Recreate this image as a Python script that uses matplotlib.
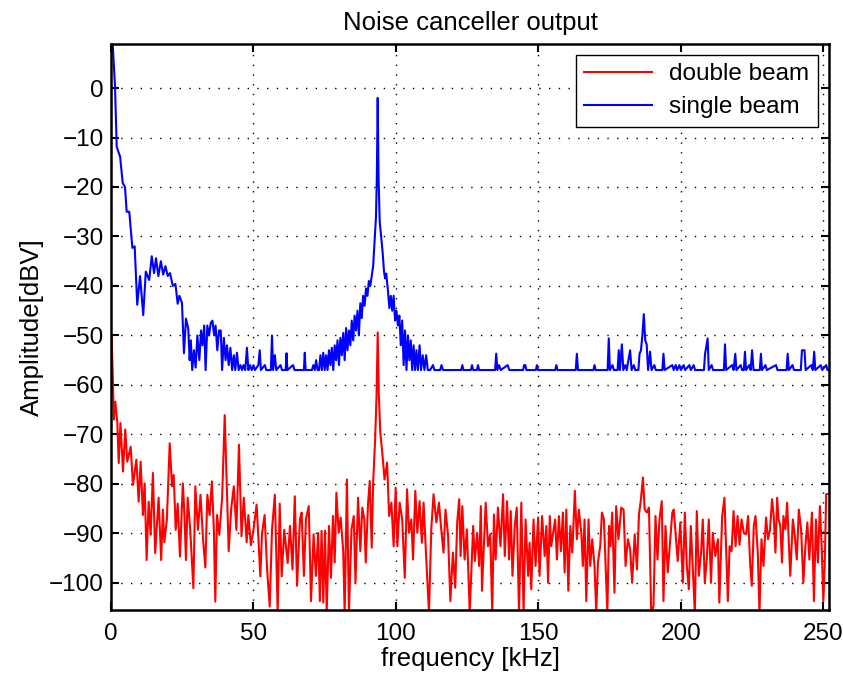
import matplotlib
matplotlib.use('Agg')
import matplotlib.pyplot as plt

plt.rcParams['font.family'] = ['Liberation Sans', 'DejaVu Sans']

# single beam output (blue)
blue_freq = [0, 0.6, 1.4, 2.0, 3.2, 4.1, 4.9, 5.5, 6.4, 7.5, 8.3, 9.2, 10.2, 11.3, 12.2,
             13.4, 14.3, 15.1, 15.8, 16.6, 17.5, 18.3, 19.1, 19.9, 20.7, 21.7, 22.6, 23.4,
             24.0, 24.9, 25.6, 26.3, 27.1, 27.6, 28.0, 28.5, 29.1, 29.7, 30.3, 31.0, 31.6,
             32.1, 32.7, 33.2, 33.8, 34.4, 35.0, 35.6, 36.2, 36.7, 37.3, 37.9, 38.5, 39.0,
             39.6, 40.2, 40.7, 41.3, 41.9, 42.5, 43.1, 43.6, 44.2, 44.8, 45.4, 46.0, 46.5,
             47.1, 47.7, 48.2, 48.8, 49.4, 50.0, 50.5, 51.7, 52.2, 52.6, 54.0, 54.5, 56.1,
             56.5, 56.9, 57.5, 58.0, 59.5, 60.0, 61.3, 61.6, 61.9, 63.9, 64.4, 67.7, 68.0,
             68.3, 70.0, 70.5, 71.0, 71.5, 72.0, 72.5, 73.0, 73.5, 74.0, 74.5, 75.0, 75.5,
             76.0, 76.5, 77.0, 77.5, 78.0, 78.5, 79.0, 79.5, 80.0, 80.5, 81.0, 81.5, 82.0,
             82.5, 83.0, 83.5, 84.0, 84.5, 85.0, 85.5, 86.0, 86.5, 87.0, 87.5, 88.0, 88.5,
             89.0, 89.5, 90.0, 90.5, 91.0, 91.5, 92.0, 92.5, 93.0, 93.3, 93.6, 93.9, 94.3,
             94.8, 95.3, 95.8, 96.2, 96.6, 97.2, 97.7, 98.2, 98.7, 99.2, 99.7, 100.2, 100.7,
             101.2, 101.7, 102.2, 102.7, 103.2, 103.7, 104.2, 104.7, 105.2, 105.7, 106.2,
             106.7, 107.2, 107.7, 108.3, 108.8, 109.4, 110.0, 110.6, 111.2, 112.0, 113.0,
             113.5, 115.5, 116.0, 116.5, 122.9, 123.3, 123.7, 126.3, 126.7, 127.1, 128.4,
             128.8, 129.2, 134.8, 135.2, 135.6, 136.2, 136.8, 139.2, 139.8, 144.6, 145.0,
             145.4, 145.8, 149.1, 149.5, 149.9, 155.9, 156.3, 156.7, 163.1, 163.5, 163.9,
             169.3, 169.7, 170.1, 174.3, 174.7, 175.1, 176.0, 176.5, 177.8, 178.2, 178.6,
             179.3, 179.8, 180.5, 181.0, 182.2, 182.7, 183.5, 184.0, 185.1, 185.5, 186.0,
             186.5, 187.0, 187.5, 188.0, 188.5, 189.2, 189.7, 190.7, 191.2, 193.5, 193.9,
             194.3, 197.0, 197.5, 198.2, 198.7, 199.5, 200.0, 201.0, 201.5, 203.0, 203.5,
             204.5, 205.0, 208.1, 208.5, 209.4, 209.8, 210.8, 211.3, 215.1, 215.5, 215.9,
             218.0, 218.5, 219.1, 219.5, 221.0, 221.5, 222.1, 222.5, 222.9, 224.0, 224.5,
             225.0, 225.5, 227.7, 228.1, 228.5, 229.7, 230.2, 233.4, 233.9, 237.1, 237.5,
             237.9, 239.2, 239.7, 242.1, 242.5, 243.4, 243.8, 245.8, 246.3, 246.8, 247.2,
             249.1, 249.6, 251.0, 251.5, 252.0]
blue_db = [9.5, 8.7, 0.3, -11.9, -13.9, -19.2, -20, -25, -25, -32.3, -32, -43.8, -38, -45.9, -37.1,
           -38.8, -34, -37.4, -34.4, -38, -35, -37.7, -36, -38, -37.4, -40, -39.6, -43.6,
           -42, -43.4, -53.6, -46.6, -48.6, -55, -51, -57, -53, -56.5, -50, -55, -49,
           -52, -48, -57, -48, -50, -47.5, -47, -50, -48, -53, -49, -49, -57,
           -50.5, -55, -52, -56, -52.5, -57, -54, -57, -53.5, -57, -56, -57, -56,
           -57, -52.5, -57, -56, -57, -56, -57, -56, -53, -57, -56, -57, -57,
           -50, -57, -54, -57, -56, -57, -57, -53.6, -57, -56, -57, -57, -53.5,
           -57, -57, -57, -56, -57, -55, -57, -57, -54, -57, -53.5, -57, -54,
           -57, -53, -56, -52.5, -57, -52, -55, -51, -56, -50.5, -54, -49.5, -55,
           -48.5, -53, -49, -52, -47, -51, -46, -49, -45, -50, -43.5, -46.5, -42,
           -44, -40.5, -42, -39, -40, -38, -36, -31, -26, -18, -2, -18, -27,
           -30, -33, -37, -38.5, -37.5, -41, -44.5, -42, -45, -42, -47, -45, -48,
           -46, -52, -47, -56, -49, -57, -50, -55, -51, -57, -52,
           -57, -53, -57, -52, -57, -54, -57, -54, -57, -57, -56,
           -57, -57, -56, -57, -57, -56, -57, -57, -56, -57, -57,
           -56, -57, -57, -53.7, -57, -56, -57, -56, -57, -57, -56,
           -56, -57, -57, -56, -57, -57, -56, -57, -57, -53.7, -57,
           -57, -56, -57, -57, -50.6, -57, -56, -57, -57, -53, -57,
           -51.8, -57, -56, -57, -53, -57, -56, -57, -57, -53.7, -53,
           -50, -45.7, -51, -51.8, -57, -53.3, -57, -56, -57, -57, -53.7,
           -57, -56, -57, -56, -57, -56, -57, -56, -57, -56, -57,
           -56, -57, -57, -53.7, -50.6, -57, -56, -57, -57, -51.8, -57,
           -56, -57, -53.7, -57, -56, -57, -57, -53.3, -57, -56, -57,
           -53, -57, -57, -53.7, -57, -56, -57, -56, -57, -57, -53.7,
           -57, -56, -57, -57, -53, -53, -57, -56, -57, -53.3, -57,
           -56, -57, -56, -57, -57]

# double beam output (red)
red_freq = [0.2, 0.6, 1.0, 1.5, 2.2, 2.7, 3.3, 4.2, 5.0, 5.7, 6.9, 7.7, 8.9, 9.7, 10.4,
            11.2, 11.8, 12.5, 13.2, 13.9, 14.7, 15.5, 16.7, 17.6, 18.2, 18.7, 19.6, 20.6,
            21.4, 22.0, 22.7, 23.4, 24.2, 25.2, 25.8, 26.3, 26.9, 27.8, 28.9, 29.6, 30.5,
            31.4, 32.3, 33.1, 33.8, 34.6, 35.4, 36.1, 36.6, 37.2, 38.0, 39.0, 39.9, 40.7,
            41.3, 42.2, 43.1, 44.0, 44.9, 45.8, 46.6, 47.6, 48.2, 49.1, 50.0, 51.1, 51.7,
            52.4, 53.0, 53.9, 54.8, 55.7, 56.5, 57.5, 58.5, 59.2, 59.9, 60.8, 62.0,
            62.8, 63.7, 64.5, 65.3, 66.3, 66.9, 67.7, 68.4, 69.4, 70.2, 71.1, 71.9, 72.7,
            73.3, 73.9, 74.5, 75.1, 75.7, 76.5, 77.2, 77.9, 78.5, 79.1, 79.9, 80.6, 81.5,
            82.0, 82.8, 83.5, 84.4, 85.2, 85.8, 86.7, 87.5, 88.2, 88.9, 89.4, 90.2, 90.8,
            91.5, 92.0, 92.7, 93.2, 93.6, 94.0, 94.5, 95.2, 96.0, 96.9, 97.6, 98.4, 99.2,
            99.9, 100.5, 101.3, 102.2, 103.1, 103.9, 104.6, 105.4, 106.0, 106.8, 107.5,
            108.3, 109.1, 109.7, 110.7, 111.6, 112.4, 113.2, 114.2, 115.1, 115.9, 116.7,
            117.4, 118.3, 119.1, 120.0, 120.8, 121.5, 122.2, 122.7, 123.3, 124.1, 124.9,
            125.9, 127.1, 127.7, 128.5, 129.2, 129.8, 130.2, 130.9, 131.5, 132.3, 133.1,
            133.8, 134.4, 135.0, 135.8, 136.7, 137.6, 138.2, 139.0, 139.7, 140.3, 140.9,
            141.7, 142.4, 143.2, 144.0, 144.8, 145.5, 146.4, 146.9, 147.5, 148.3, 149.0,
            149.9, 150.4, 151.3, 152.2, 152.8, 153.4, 154.0, 154.5, 155.1, 155.9, 156.5,
            157.2, 157.9, 158.6, 159.2, 159.8, 160.5, 161.2, 161.9, 162.8, 163.5, 164.2,
            165.1, 165.6, 166.2, 166.8, 167.6, 168.2, 168.9, 169.7, 170.3, 170.9, 171.7,
            172.3, 173.0, 173.6, 174.2, 174.8, 175.3, 175.9, 176.7, 177.3, 178.1, 179.1,
            179.9, 180.6, 181.4, 182.2, 182.9, 183.8, 184.6, 185.3, 186.0, 186.7, 187.3,
            188.1, 188.8, 189.6, 190.4, 191.1, 191.8, 192.5, 193.3, 193.9, 194.6, 195.4,
            196.2, 197.0, 197.5, 198.4, 198.9, 199.8, 200.7, 201.4, 202.1, 202.8, 203.5,
            204.2, 204.9, 205.6, 206.3, 207.1, 207.7, 208.4, 209.1, 209.8, 210.6, 211.2,
            212.1, 213.0, 213.5, 214.5, 215.3, 215.9, 216.5, 217.1, 217.8, 218.5, 219.2,
            219.9, 220.6, 221.3, 222.1, 222.9, 223.6, 224.3, 224.9, 225.6, 226.2, 227.0,
            227.6, 228.3, 229.0, 229.9, 230.6, 231.3, 232.0, 232.6, 233.2, 233.8, 234.3,
            234.9, 235.5, 236.0, 236.7, 237.3, 237.9, 238.4, 239.3, 239.9, 240.7, 241.4,
            242.2, 243.0, 243.7, 244.4, 245.1, 246.0, 246.7, 247.4, 248.1, 248.8, 249.5,
            250.0, 250.5, 251.0, 252.0]
red_db = [-50, -58, -67, -63.4, -67.5, -75.8, -67.7, -77.5, -69, -75.5, -72.5, -80.2, -75.1, -83.6, -75.5,
          -86.3, -79.9, -95.4, -83.6, -90.3, -77.8, -94, -82.8, -95.4, -85.2, -91.8, -87.2, -71.8,
          -80.5, -78.2, -89.3, -84, -94.7, -79.9, -86.6, -95.4, -82.8, -89.3, -101.1, -80.5, -89.3,
          -82.2, -91.2, -96.9, -82.2, -86.3, -79.5, -89.3, -103.8, -86.3, -90.3, -82.8, -66.1, -81.5,
          -93.6, -84.9, -80.5, -89.3, -72.1, -90.6, -82.8, -91.8, -86.3, -92.4, -89.3, -84.2, -90.6,
          -98.7, -90, -86.3, -97.4, -104.8, -89.3, -82.2, -106, -84, -98.7, -89.3, -96,
          -88.5, -97.3, -82.5, -100.6, -87.2, -85.8, -98.6, -87.2, -84.5, -103.7, -90.2, -98.6, -89.9,
          -103.7, -89.5, -104, -89.5, -106, -88.5, -99, -86.5, -95.9, -81.8, -89.9, -86.8, -93.6,
          -106, -79.1, -106, -89.2, -86.5, -100, -82.8, -93.6, -84.8, -87.2, -95.9, -84.1, -79.4,
          -92.9, -79.8, -71, -62, -49.4, -62, -69.5, -73.7, -79.1, -75.7, -86.5, -83.8, -92.6,
          -80.8, -92.6, -83.8, -87.2, -99, -81.1, -89.9, -87.2, -95.3, -81.4, -89.9,
          -83.5, -91.9, -83.8, -95.9, -106, -89.2, -82.1, -87.8, -83.8, -89.2, -93.9,
          -85.2, -90.5, -103.7, -93.9, -101, -87.8, -83.1, -94.6, -84.5, -95.3, -89.2,
          -106, -88.5, -95.6, -89.9, -96.6, -84.5, -101.6, -91.9, -83.8, -92.6, -90.2,
          -106, -86.2, -95.3, -84.8, -92.6, -82.1, -94.6, -83.5, -95.3, -85.5, -98.6,
          -88.5, -84.8, -106, -83.8, -106, -87.2, -98.6, -91.9, -101.3, -87.2, -96.6,
          -86.8, -98.6, -86.5, -94.6, -88.5, -100, -86.5, -92.6, -90.2, -87.2, -95.3,
          -86.5, -93.6, -85.8, -97.9, -85.2, -101.6, -88.5, -93.9, -81.4, -91.2, -85.2,
          -90.2, -96.6, -87.2, -103.7, -87.2, -96.6, -91.2, -96.6, -106, -95.9, -92.6,
          -85.8, -87.2, -96.6, -106, -88.5, -92.6, -85.8, -102, -84.5, -91.2, -84.8,
          -85.2, -96.6, -91.2, -93.2, -100, -90.2, -97.3, -86.2, -83.1, -78.7, -85.2,
          -85.8, -84.8, -106, -104.7, -86.5, -95.3, -87.2, -83.5, -103.7, -88.5, -97.9,
          -91.9, -85.8, -85.2, -91.9, -95.6, -87.8, -100, -85.8, -96.6, -101.3, -88.5,
          -97.3, -106, -85.5, -98.6, -93.9, -87.2, -100, -95.3, -87.2, -100, -89.9,
          -94.6, -91.2, -104, -86.5, -82.8, -93.2, -103.7, -92.6, -93.6, -85.5, -92.6,
          -86.5, -92.3, -87.2, -89.9, -90.2, -86.5, -95.9, -100.6, -88.5, -86.5, -93.9,
          -106, -91.2, -96.6, -86.8, -91.2, -89.2, -83.1, -86.5, -93.9, -82.8, -87.2,
          -88.5, -95.9, -86.5, -89.2, -83.8, -91.9, -98.6, -87.2, -89.9, -95.3, -85.2,
          -89.2, -100, -92.6, -87.8, -95.3, -85.8, -103.7, -87.2, -95.9, -84.5, -93.9,
          -103.7, -96.6, -82.1, -82]

fig = plt.figure(figsize=(8.43, 6.80), dpi=100)
ax = fig.add_axes([0.1317, 0.1029, 0.8517, 0.8324])

ax.plot(red_freq, red_db, color='red', lw=1.5, label='double beam')
ax.plot(blue_freq, blue_db, color='blue', lw=1.5, label='single beam')

ax.set_xlim(0, 252)
ax.set_ylim(-105.5, 8.9)
ax.set_xticks([0, 50, 100, 150, 200, 250])
ax.set_yticks(range(-100, 1, 10))
ax.grid(True, color='black', linestyle=(0, (1, 6)), linewidth=1.0)
ax.tick_params(direction='in', top=True, right=True, labelsize=17.5, length=6, width=1.5)
ax.tick_params(axis='y', pad=5)
ax.tick_params(axis='x', pad=9)
for s in ax.spines.values():
    s.set_linewidth(1.8)

ax.set_title('Noise canceller output', fontsize=18.5, pad=10)
ax.set_xlabel('frequency [kHz]', fontsize=18.5, labelpad=2)
ax.set_ylabel('Amplitude[dBV]', fontsize=18.5, labelpad=4)

leg = ax.legend(loc='upper right', fontsize=17.5, fancybox=False, framealpha=1,
                edgecolor='black', borderaxespad=0.45, handlelength=2.8,
                borderpad=0.35, labelspacing=0.45, handletextpad=0.7)
leg.get_frame().set_linewidth(1.0)

fig.savefig('out.png', dpi=100)
